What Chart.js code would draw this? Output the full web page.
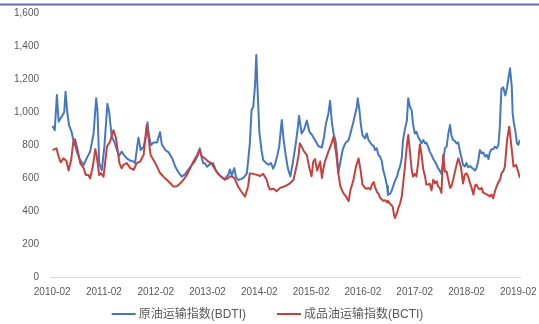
<!DOCTYPE html>
<html>
<head>
<meta charset="utf-8">
<script src="https://cdn.jsdelivr.net/npm/chart.js@4/dist/chart.umd.min.js"></script>
<style>
  html, body { margin: 0; padding: 0; background: #ffffff; }
  #wrap { position: relative; width: 539px; height: 324px; }
</style>
</head>
<body>
<div id="wrap"><canvas id="c" width="539" height="324"></canvas></div>
<script>
// Axis tick labels
const yearLabels = ['2010-02', '2011-02', '2012-02', '2013-02', '2014-02',
                    '2015-02', '2016-02', '2017-02', '2018-02', '2019-02'];
const valueTicks = [0, 200, 400, 600, 800, 1000, 1200, 1400, 1600];

// Series names and colours
const seriesNames = ['原油运输指数(BDTI)', '成品油运输指数(BCTI)'];
const seriesColors = ['#4677c2', '#c6403d'];

// BDTI: observation time (months since 2010-02) and index value
const bdtiMonths = [
  0.1, 0.6, 1.1, 1.5, 1.9, 2.3, 2.8, 3.1, 3.5, 3.9,
  4.2, 4.5, 4.9, 5.3, 5.7, 6.5, 7.3, 8.0, 8.8, 9.6,
  10.2, 10.5, 10.9, 11.5, 12.1, 12.8, 13.2, 13.8, 14.4, 15.0,
  15.5, 16.1, 16.6, 17.3, 18.1, 18.9, 19.2, 19.7, 20.0, 20.5,
  21.2, 21.7, 22.1, 22.4, 22.9, 23.5, 24.3, 25.0, 25.4, 26.2,
  27.0, 27.8, 28.5, 29.2, 30.0, 30.8, 31.5, 32.4, 33.1, 33.8,
  34.2, 34.7, 35.0, 35.4, 35.9, 36.6, 37.3, 38.0, 38.5, 39.3,
  40.0, 40.8, 41.2, 41.6, 42.2, 42.6, 43.1, 43.9, 44.5, 45.1,
  45.4, 45.8, 46.2, 46.6, 47.0, 47.3, 47.6, 48.0, 48.5, 48.9,
  49.6, 50.1, 50.7, 51.2, 51.6, 52.2, 52.6, 53.2, 53.6, 54.1,
  54.6, 55.2, 55.8, 56.4, 56.9, 57.2, 57.8, 58.4, 59.0, 59.6,
  60.1, 60.9, 61.7, 62.5, 63.0, 63.4, 64.0, 64.4, 64.8, 65.2,
  65.7, 66.0, 66.3, 66.8, 67.3, 67.9, 68.7, 69.1, 69.8, 70.6,
  70.8, 71.2, 71.5, 71.9, 72.5, 72.9, 73.3, 73.7, 74.1, 74.5,
  74.8, 75.2, 75.6, 76.0, 76.4, 76.7, 77.2, 77.6, 77.8, 78.3,
  78.7, 79.0, 79.4, 79.9, 80.2, 80.6, 81.0, 81.3, 81.7, 82.2,
  82.5, 82.9, 83.3, 83.6, 84.0, 84.4, 84.8, 85.2, 85.6, 86.0,
  86.4, 86.7, 87.1, 87.5, 87.9, 88.3, 88.7, 89.1, 89.4, 89.8,
  90.2, 90.6, 91.0, 91.4, 91.8, 92.2, 92.5, 92.9, 93.3, 93.7,
  94.1, 94.5, 94.9, 95.2, 95.6, 96.0, 96.4, 96.8, 97.6, 98.0,
  98.3, 98.7, 99.1, 99.5, 99.9, 100.3, 100.7, 101.1, 101.4, 101.8,
  102.2, 102.6, 103.0, 103.4, 103.7, 104.1, 104.5, 105.0, 105.4, 105.7,
  106.1, 106.5, 106.7, 107.0, 107.3, 107.7, 108.0, 108.4
];
const bdtiValues = [
  915, 890, 1103, 941, 960, 975, 1000, 1123, 1000, 920,
  900, 880, 830, 800, 760, 709, 679, 719, 760, 870,
  1083, 1012, 689, 648, 790, 1050, 1002, 850, 820, 770,
  735, 760, 740, 719, 705, 700, 690, 790, 845, 770,
  790, 850, 938, 860, 800, 815, 815, 878, 805, 770,
  755, 720, 670, 638, 608, 622, 650, 680, 702, 740,
  780, 720, 690, 690, 668, 685, 690, 640, 625, 605,
  595, 620, 652, 615, 660, 605, 588, 595, 605, 628,
  700, 810, 1012, 1032, 1160, 1345, 1133, 880, 770, 709,
  690, 680, 690, 657, 680, 740, 790, 951, 840, 740,
  660, 610, 700, 800, 900, 978, 870, 895, 948, 880,
  865, 830, 792, 785, 850, 925, 990, 1068, 940, 870,
  820, 740, 628, 700, 770, 810, 830, 870, 941, 1032,
  1083, 1010, 930, 860, 840, 870, 830, 815, 800, 795,
  770, 780, 740, 729, 700, 648, 600, 550, 497, 505,
  525, 550, 580, 608, 640, 669, 720, 830, 890, 950,
  1083, 1032, 1010, 931, 870, 880, 850, 830, 810, 830,
  810, 815, 790, 760, 740, 715, 700, 679, 660, 645,
  625, 700, 780, 790, 870, 921, 860, 830, 825, 810,
  815, 760, 715, 680, 670, 690, 665, 672, 655, 645,
  660, 700, 770, 750, 755, 730, 740, 715, 755, 775,
  775, 790, 780, 800, 900, 1140, 1150, 1100, 1150, 1200,
  1265, 1150, 990, 930, 890, 810, 800, 830
];

// BCTI: observation time (months since 2010-02) and index value
const bctiMonths = [
  0.1, 0.6, 1.0, 1.5, 2.0, 2.6, 3.3, 3.8, 4.4, 4.9,
  5.3, 5.9, 6.5, 7.3, 7.8, 8.4, 8.8, 9.4, 10.0, 10.3,
  10.9, 11.3, 11.9, 12.7, 13.4, 14.2, 14.8, 15.6, 16.1, 16.5,
  17.3, 18.1, 18.9, 19.6, 20.4, 21.2, 21.9, 22.3, 22.8, 23.5,
  24.3, 25.0, 25.8, 26.6, 27.4, 28.1, 28.9, 29.7, 30.4, 31.2,
  32.0, 32.7, 33.6, 34.1, 34.7, 35.4, 36.2, 36.9, 37.7, 38.5,
  39.3, 40.0, 40.8, 41.2, 42.0, 42.4, 43.1, 43.9, 44.7, 45.4,
  45.8, 46.6, 47.4, 48.2, 48.9, 49.7, 50.1, 50.5, 51.3, 52.0,
  52.8, 53.6, 54.3, 55.1, 55.9, 56.7, 57.1, 57.4, 57.8, 58.4,
  59.0, 59.6, 60.1, 60.5, 60.9, 61.4, 62.1, 62.5, 62.8, 63.2,
  64.0, 64.8, 65.2, 65.8, 66.3, 66.8, 67.5, 68.1, 68.7, 69.1,
  69.8, 70.4, 71.0, 71.5, 71.9, 72.5, 72.9, 73.3, 73.7, 74.1,
  74.5, 74.8, 75.2, 75.6, 76.0, 76.4, 76.7, 77.2, 77.6, 77.8,
  78.3, 78.9, 79.2, 79.4, 79.9, 80.2, 80.6, 81.0, 81.3, 81.7,
  82.2, 82.5, 82.9, 83.3, 83.6, 84.0, 84.4, 84.8, 85.2, 85.6,
  86.0, 86.4, 86.7, 87.1, 87.5, 87.9, 88.3, 88.7, 89.1, 89.4,
  89.8, 90.2, 90.6, 91.0, 91.4, 91.8, 92.2, 92.5, 92.9, 93.6,
  94.1, 94.7, 95.2, 95.6, 96.0, 96.4, 96.8, 97.2, 97.6, 98.0,
  98.3, 98.7, 99.1, 99.5, 99.9, 100.3, 100.7, 101.1, 101.4, 101.8,
  102.2, 102.6, 103.0, 103.4, 103.8, 104.1, 104.5, 104.9, 105.4, 105.9,
  106.5, 106.9, 107.5, 108.0, 108.4
];
const bctiValues = [
  770, 775, 780, 729, 695, 719, 705, 645, 709, 820,
  835, 770, 690, 660, 618, 618, 598, 668, 775, 739,
  618, 630, 608, 790, 820, 890, 840, 689, 659, 679,
  690, 660, 650, 690, 700, 740, 921, 850, 740, 709,
  669, 630, 608, 588, 568, 548, 550, 568, 588, 618,
  660, 699, 740, 770, 730, 719, 699, 690, 655, 625,
  605, 590, 600, 610, 605, 590, 547, 515, 487, 550,
  628, 625, 620, 612, 625, 590, 550, 530, 535, 520,
  540, 547, 555, 568, 588, 680, 740, 810, 790, 760,
  740, 660, 610, 700, 715, 645, 700, 600, 650, 700,
  760, 815, 850, 750, 628, 547, 507, 487, 460, 525,
  588, 669, 719, 640, 560, 540, 535, 540, 530, 560,
  575, 548, 518, 505, 480, 470, 462, 465, 452, 462,
  445, 427, 380, 357, 387, 417, 445, 487, 560, 660,
  800, 860, 760, 650, 608, 625, 610, 690, 805, 740,
  650, 610, 560, 560, 565, 525, 590, 568, 580, 550,
  540, 510, 739, 640, 640, 588, 540, 548, 588, 669,
  719, 669, 567, 620, 628, 608, 570, 540, 500, 555,
  560, 540, 530, 540, 510, 507, 500, 495, 487, 500,
  477, 520, 550, 575, 590, 628, 640, 669, 830, 911,
  770, 669, 679, 638, 600
];

const toPoints = (months, values) => months.map((m, i) => ({ x: m, y: values[i] }));

const textColor = '#595959';
const tickFont = { family: "'Liberation Sans', Arial, sans-serif", size: 10 };

// Thin rule along the top edge, under the section heading
const headerRule = {
  id: 'headerRule',
  beforeDraw(chart) {
    const { ctx, width } = chart;
    ctx.save();
    ctx.strokeStyle = '#6b6ba5';
    ctx.lineWidth = 2;
    ctx.beginPath();
    ctx.moveTo(0, 4.5);
    ctx.lineTo(width, 4.5);
    ctx.stroke();
    ctx.restore();
  }
};

// Line-sample legend centred under the x axis
const lineLegend = {
  id: 'lineLegend',
  afterDraw(chart) {
    const { ctx } = chart;
    const sample = 24, gapText = 3, gapItem = 31, y = 314;
    ctx.save();
    ctx.font = "12px 'Liberation Sans', 'Noto Sans CJK SC', sans-serif";
    ctx.textBaseline = 'middle';
    const widths = chart.data.datasets.map(d => ctx.measureText(d.label).width);
    const total = widths.reduce((a, w) => a + sample + gapText + w, 0) + gapItem * (widths.length - 1);
    let x = chart.width / 2 - 2 - total / 2;
    chart.data.datasets.forEach((d, i) => {
      ctx.strokeStyle = d.borderColor;
      ctx.lineWidth = 2;
      ctx.beginPath();
      ctx.moveTo(x, y);
      ctx.lineTo(x + sample, y);
      ctx.stroke();
      ctx.fillStyle = textColor;
      ctx.fillText(d.label, x + sample + gapText, y + 0.5);
      x += sample + gapText + widths[i] + gapItem;
    });
    ctx.restore();
  }
};

new Chart(document.getElementById('c'), {
  type: 'line',
  data: {
    datasets: [
      {
        label: seriesNames[0],
        data: toPoints(bdtiMonths, bdtiValues),
        borderColor: seriesColors[0],
        backgroundColor: seriesColors[0],
        borderWidth: 2,
        pointRadius: 0,
        tension: 0,
        borderJoinStyle: 'round',
        order: 1
      },
      {
        label: seriesNames[1],
        data: toPoints(bctiMonths, bctiValues),
        borderColor: seriesColors[1],
        backgroundColor: seriesColors[1],
        borderWidth: 2,
        pointRadius: 0,
        tension: 0,
        borderJoinStyle: 'round',
        order: 0
      }
    ]
  },
  options: {
    responsive: false,
    animation: false,
    devicePixelRatio: 1,
    layout: { padding: { top: 13, right: 19, bottom: 22, left: 0 } },
    plugins: {
      legend: { display: false },
      tooltip: { enabled: false }
    },
    scales: {
      x: {
        type: 'linear',
        min: -0.5,
        max: 108.4,
        afterBuildTicks: s => { s.ticks = yearLabels.map((_, i) => ({ value: i * 12 })); },
        ticks: {
          callback: v => yearLabels[Math.round(v / 12)],
          autoSkip: false,
          maxRotation: 0,
          padding: 9,
          color: textColor,
          font: tickFont
        },
        grid: { display: false, drawTicks: false },
        border: { display: true, color: '#d9d9d9', width: 1 },
        afterFit: s => { s.height = 25; s.paddingLeft = 0; s.paddingRight = 0; }
      },
      y: {
        min: 0,
        max: 1600,
        afterBuildTicks: s => { s.ticks = valueTicks.map(v => ({ value: v })); },
        ticks: {
          callback: v => v.toLocaleString('en-US'),
          padding: 11,
          color: textColor,
          font: tickFont
        },
        grid: { display: false, drawTicks: false },
        border: { display: false },
        afterFit: s => { s.width = 50; s.paddingTop = 0; s.paddingBottom = 0; }
      }
    }
  },
  plugins: [headerRule, lineLegend]
});
</script>
</body>
</html>
